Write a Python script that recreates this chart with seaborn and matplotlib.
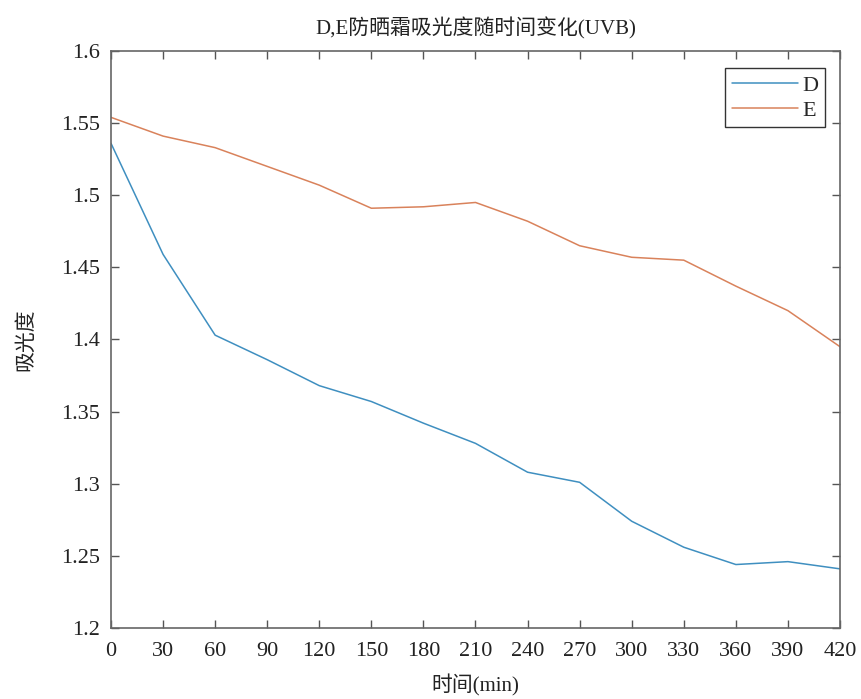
import pandas as pd
import matplotlib
matplotlib.use('Agg')
import matplotlib.pyplot as plt
import seaborn as sns

# 数据
time_min = [0, 30, 60, 90, 120, 150, 180, 210, 240, 270, 300, 330, 360, 390, 420]
abs_D = [1.536, 1.459, 1.403, 1.386, 1.368, 1.357, 1.342, 1.328, 1.308, 1.301,
         1.274, 1.256, 1.244, 1.246, 1.241]
abs_E = [1.554, 1.541, 1.533, 1.520, 1.507, 1.491, 1.492, 1.495, 1.482, 1.465,
         1.457, 1.455, 1.437, 1.420, 1.395]
x_ticks = list(range(0, 421, 30))
y_ticks = [1.2, 1.25, 1.3, 1.35, 1.4, 1.45, 1.5, 1.55, 1.6]

df = pd.DataFrame({
    'time': time_min * 2,
    'value': abs_D + abs_E,
    'sample': ['D'] * len(time_min) + ['E'] * len(time_min),
})

sns.set_style('ticks')
plt.rcParams['font.family'] = ['Liberation Serif', 'Noto Sans CJK SC']
plt.rcParams['axes.unicode_minus'] = False

fig = plt.figure(figsize=(8.62, 6.99), dpi=100)
ax = fig.add_axes([111 / 862, 1 - 628 / 699, (840 - 111) / 862, (628 - 51) / 699])

sns.lineplot(data=df, x='time', y='value', hue='sample',
             palette={'D': '#3f8fc0', 'E': '#d9825b'}, linewidth=1.1, ax=ax)

ax.set_xlim(0, 420)
ax.set_ylim(1.2, 1.6)
ax.set_xticks(x_ticks)
ax.set_yticks(y_ticks)
ax.set_yticklabels([f'{v:g}' for v in y_ticks])
ax.tick_params(direction='in', length=6, width=1, top=True, right=True,
               labelsize=16, colors='#555555', labelcolor='#222222')
ax.tick_params(axis='x', pad=10)
ax.tick_params(axis='y', pad=8)
for s in ax.spines.values():
    s.set_visible(True)
    s.set_color('#666666')
    s.set_linewidth(1.2)

ax.set_title('D,E防晒霜吸光度随时间变化(UVB)', fontsize=15, color='#222222', pad=12)
ax.set_xlabel('时间(min)', fontsize=15, color='#222222', labelpad=10)
ax.set_ylabel('吸光度', fontsize=15, color='#222222', labelpad=18)

leg = ax.legend(loc='upper right', bbox_to_anchor=(0.98, 0.97), fontsize=16,
                frameon=True, fancybox=False, framealpha=1, handlelength=3.0,
                borderpad=0.3, labelspacing=0.2, handletextpad=0.2, borderaxespad=0)
leg.get_frame().set_edgecolor('#333333')
leg.get_frame().set_linewidth(1)

fig.savefig('out.png', dpi=100)
